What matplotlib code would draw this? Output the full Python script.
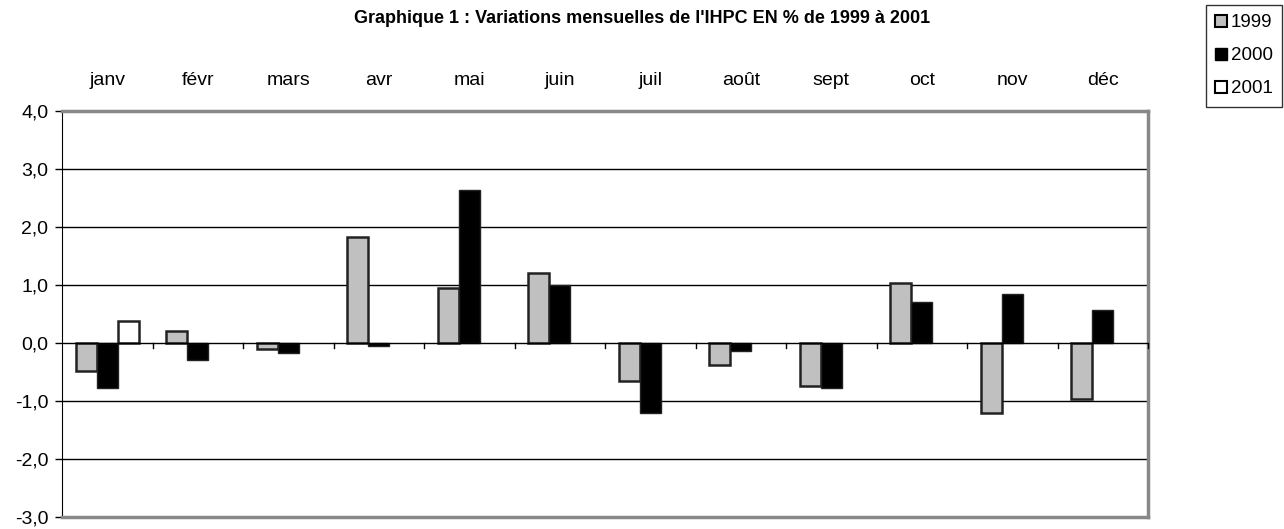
"""Graphique 1 : variations mensuelles de l'IHPC, 1999-2001"""

import matplotlib
matplotlib.use('Agg')
import matplotlib.pyplot as plt
import matplotlib.transforms as mtransforms
from matplotlib.patches import Patch
import numpy as np

plt.rcParams['font.family'] = ['Liberation Sans', 'DejaVu Sans']

months = ['janv', 'févr', 'mars', 'avr', 'mai', 'juin',
          'juil', 'août', 'sept', 'oct', 'nov', 'déc']
var_1999 = [-0.48, 0.20, -0.10, 1.82, 0.94, 1.20, -0.65, -0.38, -0.75, 1.03, -1.21, -0.97]
var_2000 = [-0.77, -0.30, -0.18, -0.06, 2.64, 1.00, -1.21, -0.14, -0.77, 0.71, 0.85, 0.57]
var_2001 = [0.38]
y_ticks = [-3, -2, -1, 0, 1, 2, 3, 4]

fig = plt.figure(figsize=(12.84, 5.29), dpi=100)
ax = fig.add_axes([0.0483, 0.0227, 0.8458, 0.7675])

x = np.arange(len(months))
w = 0.232
ax.bar(x - w, var_1999, w, color='#c0c0c0', edgecolor='#222222', linewidth=1.8, zorder=3)
ax.bar(x, var_2000, w, color='black', edgecolor='#222222', linewidth=1.0, zorder=3)
ax.bar(x[:len(var_2001)] + w, var_2001, w, color='white', edgecolor='#222222', linewidth=1.8, zorder=3)

ax.set_xlim(-0.5, len(months) - 0.5)
ax.set_ylim(-3, 4)
ax.set_yticks(y_ticks)
ax.set_yticklabels([f'{v:.1f}'.replace('.', ',') for v in y_ticks], fontsize=14)
for v in [-2, -1, 1, 2, 3]:
    ax.axhline(v, color='black', linewidth=1.0, zorder=1)
ax.axhline(0, color='black', linewidth=1.0, zorder=4)

# ticks between months, hanging under the zero line
ax.set_xticks([])
for b in np.arange(0.5, len(months), 1.0):
    ax.plot([b, b], [0, -0.09], color='black', linewidth=1.0, zorder=4, clip_on=False)

for side in ['top', 'right', 'bottom']:
    ax.spines[side].set_color('#888888')
    ax.spines[side].set_linewidth(2.5)
ax.spines['left'].set_color('black')
ax.tick_params(axis='y', direction='out', length=5, width=1.0, pad=5)

# month names above the plot
trans = mtransforms.blended_transform_factory(ax.transData, ax.transAxes)
for i, m in enumerate(months):
    ax.text(i, 1.075, m, transform=trans, ha='center', va='center', fontsize=14)

fig.text(0.5, 0.965, "Graphique 1 : Variations mensuelles de l'IHPC EN % de 1999 à 2001",
         ha='center', va='center', fontsize=13, fontweight='bold')

handles = [Patch(facecolor='#c0c0c0', edgecolor='black', linewidth=1.5),
           Patch(facecolor='black', edgecolor='black'),
           Patch(facecolor='white', edgecolor='black', linewidth=1.5)]
leg = fig.legend(handles, ['1999', '2000', '2001'], loc='upper left',
                 bbox_to_anchor=(1206 / 1284, 1 - 5 / 529), fontsize=13.5, frameon=True,
                 fancybox=False, handlelength=0.62, handleheight=0.62, handletextpad=0.2,
                 borderpad=0.5, labelspacing=0.85, borderaxespad=0.0)
leg.get_frame().set_edgecolor('black')
leg.get_frame().set_linewidth(1.0)

fig.savefig('out.png', dpi=100)
